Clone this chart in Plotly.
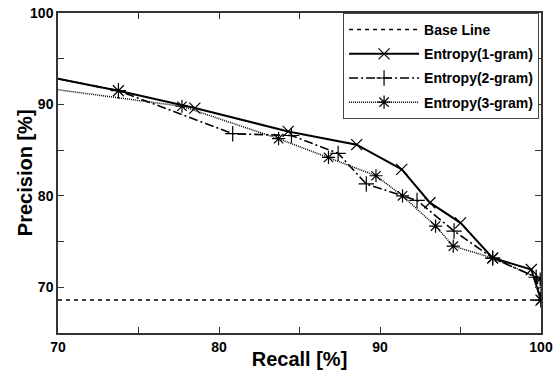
import plotly.graph_objects as go

# Data (Recall %, Precision %)
base_x = [70, 100]
base_y = [68.6, 68.6]

g1_recall = [68.0, 73.75, 78.5, 84.3, 88.55, 91.35, 93.1, 95.0, 97.0, 99.4, 100.0]
g1_prec = [93.5, 91.5, 89.6, 87.05, 85.6, 82.9, 79.25, 77.05, 73.2, 71.95, 68.6]

g2_recall = [68.0, 73.75, 80.85, 84.5, 87.4, 89.15, 92.3, 94.6, 97.0, 99.7, 100.0]
g2_prec = [93.5, 91.5, 86.8, 86.6, 84.65, 81.3, 79.5, 76.15, 73.2, 71.1, 68.6]

g3_recall = [68.0, 77.7, 83.7, 86.8, 89.75, 91.4, 93.45, 94.55, 97.0, 99.95, 100.0]
g3_prec = [92.07, 89.8, 86.25, 84.2, 82.2, 80.0, 76.7, 74.5, 73.2, 70.9, 68.6]

x_ticks = [70, 75, 80, 85, 90, 95, 100]
x_labels = ["70", "", "80", "", "90", "", "100"]
y_ticks = [65, 70, 75, 80, 85, 90, 95, 100]
y_labels = ["", "70", "", "80", "", "90", "", "100"]

FONT = "Liberation Sans, Arial, sans-serif"

fig = go.Figure()
fig.add_trace(go.Scatter(x=base_x, y=base_y, mode="lines", name="Base Line",
                         legendgroup="a",
                         line=dict(color="black", width=1.5, dash="4px,4px")))
fig.add_trace(go.Scatter(x=g1_recall, y=g1_prec, mode="lines+markers", name="Entropy(1-gram)",
                         legendgroup="b",
                         line=dict(color="black", width=2),
                         marker=dict(symbol="x-thin", size=11, color="black",
                                     line=dict(color="black", width=1.2))))
fig.add_trace(go.Scatter(x=g2_recall, y=g2_prec, mode="lines+markers", name="Entropy(2-gram)",
                         legendgroup="c",
                         line=dict(color="black", width=1.6, dash="9px,3px,2px,3px"),
                         marker=dict(symbol="cross-thin", size=11, color="black",
                                     line=dict(color="black", width=1.2))))
fig.add_trace(go.Scatter(x=g3_recall, y=g3_prec, mode="lines+markers", name="Entropy(3-gram)",
                         legendgroup="d",
                         line=dict(color="black", width=1.5, dash="1px,1px"),
                         marker=dict(symbol="asterisk", size=11, color="black",
                                     line=dict(color="black", width=1.2))))

axis_common = dict(showgrid=False, zeroline=False, showline=True, linecolor="#333",
                   linewidth=1.5, mirror="ticks", ticks="inside", ticklen=6,
                   tickcolor="#333", tickwidth=1, automargin=False,
                   tickfont=dict(family=FONT, size=14, color="black", weight="bold"))

fig.update_xaxes(range=[70, 100], tickmode="array", tickvals=x_ticks, ticktext=x_labels,
                 title=dict(text="Recall [%]", font=dict(family=FONT, size=20, color="black",
                                                        weight="bold"), standoff=0),
                 **axis_common)
fig.update_yaxes(range=[65, 100], tickmode="array", tickvals=y_ticks, ticktext=y_labels,
                 **axis_common)

fig.add_annotation(text="Precision [%]", xref="paper", yref="paper",
                   x=-0.068, y=0.5, xanchor="center", yanchor="middle",
                   textangle=-90, showarrow=False,
                   font=dict(family=FONT, size=20, color="black", weight="bold"))

fig.update_layout(
    width=556, height=370,
    margin=dict(l=58, r=15, t=13, b=37),
    plot_bgcolor="white", paper_bgcolor="white",
    showlegend=True,
    legend=dict(x=0.996, y=1.0, xanchor="right", yanchor="top",
                bgcolor="white", bordercolor="#444", borderwidth=1,
                font=dict(family=FONT, size=14, color="black", weight="bold"),
                tracegroupgap=3, itemwidth=70),
)

fig.write_html("out.html")
